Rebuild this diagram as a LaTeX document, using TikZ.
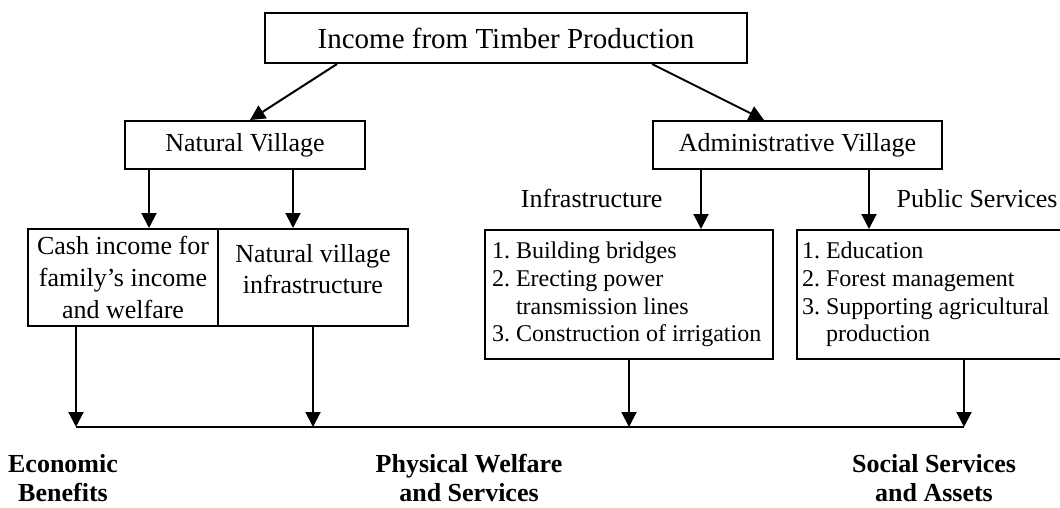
\documentclass[tikz,border=0pt]{standalone}
\usepackage{fontspec}
\setmainfont{Liberation Serif}
\usetikzlibrary{arrows.meta}

\tikzset{
	box/.style={draw, line width=2pt, inner sep=0pt, font=\fontsize{26}{32}\selectfont},
	listbox/.style={box, align=flush left, font=\frenchspacing\fontsize{24}{27.7}\selectfont},
	flow/.style={-{Triangle[width=15pt,length=15pt]}, line width=2pt},
	result/.style={align=center, inner sep=0pt, font=\bfseries\fontsize{26}{29}\selectfont},
}

\begin{document}
\begin{tikzpicture}[x=1pt,y=-1pt]
	\useasboundingbox (0,0) rectangle (1060,508);
	% boxes
	\node[box, minimum width=482pt, minimum height=50pt, font=\fontsize{29}{34}\selectfont] (timber) at (506,38) {Income from Timber Production};
	\node[box, minimum width=240pt, minimum height=48pt] (natural) at (245,145) {Natural Village};
	\node[box, minimum width=289pt, minimum height=48pt] (admin) at (797.5,145) {Administrative Village};
	\node[box, minimum width=190pt, minimum height=97pt, align=center] (cash) at (123,277.5) {Cash income for\\family's income\\and welfare};
	\node[box, minimum width=190pt, minimum height=97pt] (natinfra) at (313,277.5) {};
	\node[align=center, font=\fontsize{26}{31}\selectfont] (natinfratext) at (313,269) {Natural village\\infrastructure};
	\node[listbox, text width=274pt, inner xsep=7pt, minimum height=129pt] (infra) at (629,294.5) {1. Building bridges\\2. Erecting power\\\hphantom{2. }transmission lines\\3. Construction of irrigation};
	\node[listbox, text width=258pt, inner xsep=5pt, minimum height=129pt] (public) at (931,294.5) {1. Education\\2. Forest management\\3. Supporting agricultural\\\hphantom{3. }production};
	\node[anchor=base east, font=\fontsize{26}{31}\selectfont] (infralabel) at (666,207) {Infrastructure};
	\node[anchor=base west, font=\fontsize{26}{31}\selectfont] (publiclabel) at (893,207) {Public Services};
	% outcomes
	\node[result, anchor=base] (economic) at (63,501) {Economic\\Benefits};
	\node[result, anchor=base] (physical) at (469,501) {Physical Welfare\\and Services};
	\node[result, anchor=base] (social) at (934,501) {Social Services\\and Assets};
	\coordinate (bus) at (0,427);
	% arrows
	\draw[flow] ([xshift=-169pt]timber.south) -- ([xshift=5pt]natural.north);
	\draw[flow] ([xshift=146pt]timber.south) -- ([xshift=-33.5pt]admin.north);
	\draw[flow] ([xshift=-96pt]natural.south) -- ([xshift=-96pt]natural.south |- cash.north);
	\draw[flow] ([xshift=48pt]natural.south) -- ([xshift=48pt]natural.south |- natinfra.north);
	\draw[flow] ([xshift=-96.5pt]admin.south) -- ([xshift=-96.5pt]admin.south |- infra.north);
	\draw[flow] ([xshift=71.5pt]admin.south) -- ([xshift=71.5pt]admin.south |- public.north);
	\draw[flow] ([xshift=-47pt]cash.south) -- ([xshift=-47pt]cash.south |- bus);
	\draw[flow] (natinfra.south) -- (natinfra.south |- bus);
	\draw[flow] (infra.south) -- (infra.south |- bus);
	\draw[flow] ([xshift=33pt]public.south) -- ([xshift=33pt]public.south |- bus);
	\draw[line width=2pt] ([xshift=-47pt]cash.south |- bus) -- ([xshift=33pt]public.south |- bus);
\end{tikzpicture}
\end{document}
